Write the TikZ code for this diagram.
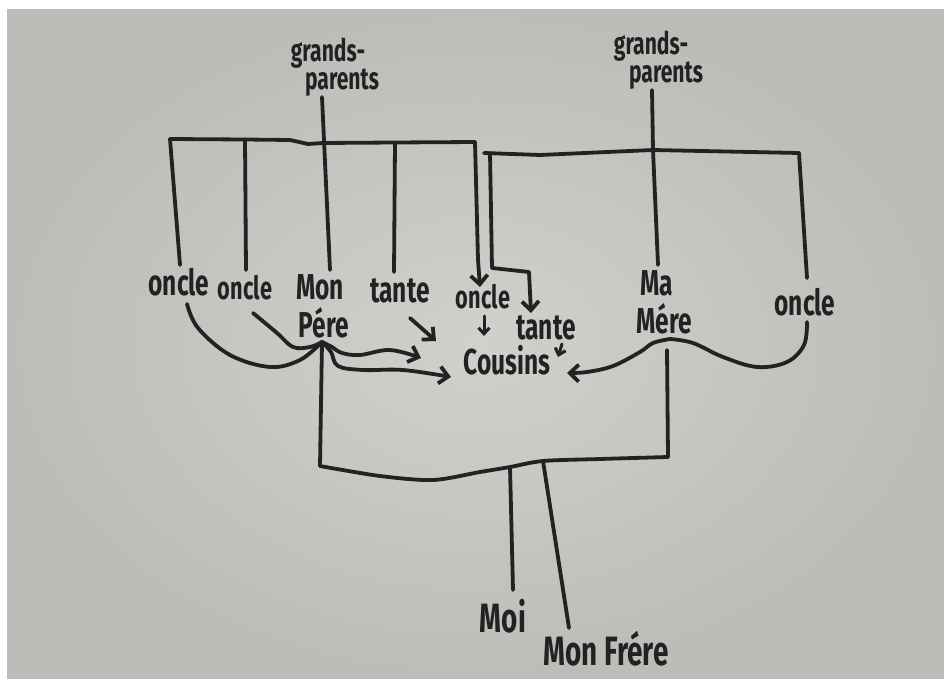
\documentclass[tikz,border=0pt]{standalone}
\usepackage{fontspec}
\setmainfont{Fira Sans}[FakeStretch=0.68]
\usetikzlibrary{arrows.meta}
\definecolor{ink}{RGB}{34,34,34}
\definecolor{paperin}{RGB}{208,209,205}
\definecolor{paperout}{RGB}{188,189,185}
\begin{document}
\begin{tikzpicture}[x=1pt,y=-1pt,
  pen/.style={draw=ink,line width=3.8pt,line cap=round,line join=round},
  thinpen/.style={draw=ink,line width=3pt,line cap=round,line join=round},
  tip/.style={-{Straight Barb[length=9pt,width=17pt]}},
  smalltip/.style={-{Straight Barb[length=6pt,width=11pt]}},
  lab/.style={text=ink,inner sep=0pt,font=\bfseries\fontsize{36}{36}\selectfont},
  midlab/.style={lab,font=\bfseries\fontsize{32}{32}\selectfont},
  gplab/.style={lab,font=\bfseries\fontsize{31}{31}\selectfont},
  biglab/.style={lab,font=\bfseries\fontsize{41}{41}\selectfont}]
\useasboundingbox (0,0) rectangle (944,679);
\fill[white] (0,0) rectangle (944,679);
\shade[inner color=paperin,outer color=paperout] (7,10) rectangle (944,679);

% ---------- labels ----------
\node[gplab] (g1a) at (328,53) {grands-};
\node[gplab] (g1b) at (342,83) {parents};
\node[gplab] (g2a) at (651,46) {grands-};
\node[gplab] (g2b) at (666,76) {parents};

\node[lab] (o1) at (179,282) {oncle};
\node[midlab] (o2) at (245,288) {oncle};
\node[lab] (mon) at (320,287) {Mon};
\node[lab] (pere) at (324,323) {Pére};
\node[lab] (t1) at (400,291) {tante};
\node[midlab] (o3) at (483,297) {oncle};
\node[lab] (t2) at (546,328) {tante};
\node[lab] (cous) at (507,360) {Cousins};
\node[lab] (ma) at (657,283) {Ma};
\node[lab] (mere) at (664,319) {Mére};
\node[lab] (o4) at (805,302) {oncle};
\node[biglab] (moi) at (503,616) {Moi};
\node[biglab] (frere) at (606,649) {Mon Frére};

% ---------- coordinates ----------
\coordinate (g1s) at (322,97);
\coordinate (b1l) at (170,139);
\coordinate (b1c2) at (245,139.5);
\coordinate (b1m) at (323,143);
\coordinate (b1c4) at (395,142.5);
\coordinate (b1r) at (475,142);
\coordinate (c1e) at (180,265);
\coordinate (c2e) at (246,270);
\coordinate (c3e) at (330,270);
\coordinate (c4e) at (394,272);
\coordinate (c5e) at (480,287);

\coordinate (g2s) at (652,90);
\coordinate (b2l) at (484,153);
\coordinate (b2c1) at (490,153);
\coordinate (b2m) at (653,150);
\coordinate (b2r) at (799,153);
\coordinate (d1e) at (531,313);
\coordinate (d2e) at (658,265);
\coordinate (d3e) at (807,278);

\coordinate (J1) at (322,342);
\coordinate (J2) at (670,339);
\coordinate (B0) at (320,466);
\coordinate (B1) at (668,457);
\coordinate (moiT) at (510,467);
\coordinate (moiB) at (513,590);
\coordinate (frT) at (543,461);
\coordinate (frB) at (569,628);

% ---------- left family ----------
\draw[pen] (g1s) -- (c3e);
\draw[pen] (b1l) -- (b1c2) -- (290,140) -- (308,144) -- (b1m) -- (b1c4) -- (b1r);
\draw[pen] (b1l) -- (c1e);
\draw[pen] (b1c2) -- (c2e);
\draw[pen] (b1c4) -- (c4e);
\draw[pen,tip] (b1r) -- (478,260) -- (c5e);

% ---------- right family ----------
\draw[pen] (g2s) -- (b2m) -- (d2e);
\draw[pen] (b2l) -- (540,155) -- (607,152) -- (b2m) -- (b2r);
\draw[pen] (b2r) -- (d3e);
\draw[pen,tip] (b2c1) -- (492,268) -- (529,272) -- (d1e);

% ---------- Père side ----------
\draw[pen] plot[smooth,tension=0.6] coordinates {(187,304) (198,328) (230,355) (270,367) (300,360) (J1)};
\draw[pen] plot[smooth,tension=0.6] coordinates {(253,313) (277,333) (293,347) (310,347) (J1)};
\draw[pen,tip] plot[smooth,tension=0.6] coordinates {(J1) (332,347) (342,353) (360,355) (390,350) (421,358)};
\draw[pen,tip] plot[smooth,tension=0.6] coordinates {(J1) (331,352) (338,366) (363,370) (403,370) (451,377)};
\draw[pen,tip] (410,318) -- (436,341);
\draw[pen] (J1) -- (B0);

% ---------- Mère side ----------
\draw[pen] plot[smooth,tension=0.6] coordinates {(807,322) (804,345) (787,362) (757,367) (723,357) (693,343) (J2)};
\draw[pen,tip] plot[smooth,tension=0.6] coordinates {(J2) (653,343) (640,352) (613,366) (587,372) (567,373)};
\draw[pen] (667,350) -- (B1);

% ---------- small arrows ----------
\draw[thinpen,smalltip] (484,316) -- (484,336);
\draw[thinpen,smalltip] (562,344) -- (558,357);

% ---------- children ----------
\draw[pen] plot[smooth,tension=0.5] coordinates {(B0) (380,476) (433,480) (480,472) (moiT) (frT) (600,459) (B1)};
\draw[pen] (moiT) -- (moiB);
\draw[pen] (frT) -- (frB);
\end{tikzpicture}
\end{document}
